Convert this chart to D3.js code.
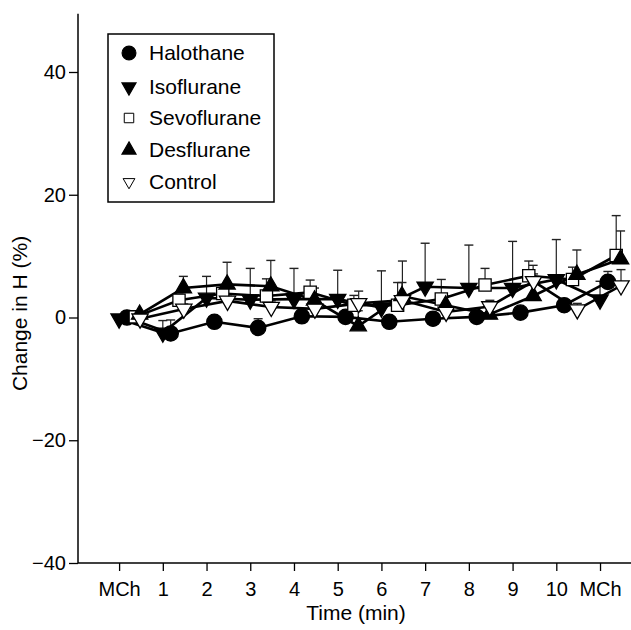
<!DOCTYPE html>
<html>
<head>
<meta charset="utf-8">
<script src="https://cdn.jsdelivr.net/npm/d3@7"></script>
<style>
  body { margin: 0; background: #fff; }
  text { font-family: "Liberation Sans", Arial, sans-serif; fill: #000; }
</style>
</head>
<body>
<script>
// time points (index on x axis)
var timeLabels = ["MCh", "1", "2", "3", "4", "5", "6", "7", "8", "9", "10", "MCh"];

var halothane     = [0, -2.6, -0.7, -1.7, 0.2, 0.1, -0.7, -0.2, 0.1, 0.8, 2.0, 5.8];
var halothaneSD   = [0, 2.2, 0.9, 1.5, 1.0, 0.8, 0.5, 0.6, 0.5, 0.6, 0.8, 1.7];
var isoflurane    = [-0.2, -2.5, 3.2, 2.9, 3.0, 3.0, 1.6, 5.0, 4.8, 4.8, 6.2, 2.9];
var isofluraneSD  = [0, 2.0, 3.5, 5.1, 5.0, 4.7, 6.0, 7.1, 7.0, 7.6, 6.5, 3.0];
var sevoflurane   = [0.1, 2.8, 3.9, 3.5, 4.1, 2.0, 2.0, 3.0, 5.3, 6.8, 6.2, 10.1];
var sevofluraneSD = [0, 1.0, 1.0, 2.8, 2.0, 1.6, 3.7, 3.2, 2.7, 2.4, 2.0, 6.5];
var desflurane    = [0.5, 4.8, 5.4, 5.1, 2.8, -1.4, 3.5, 2.0, 0.5, 3.5, 7.0, 9.5];
var desfluraneSD  = [0, 1.9, 3.6, 4.2, 2.0, 2.5, 2.2, 1.5, 1.2, 5.0, 4.0, 4.6];
var control       = [-0.2, 1.4, 2.7, 1.7, 1.4, 2.3, 2.8, 0.9, 1.8, 5.9, 1.3, 5.2];
var controlSD     = [0, 0.8, 1.0, 1.0, 1.0, 2.0, 6.4, 1.0, 1.0, 1.2, 1.0, 2.6];

var yTicks = [-40, -20, 0, 20, 40];

var series = [
    {name: "Halothane",   values: halothane,   sd: halothaneSD,   shape: "circle", fill: "#000", shift: 0.18},
    {name: "Isoflurane",  values: isoflurane,  sd: isofluraneSD,  shape: "down",   fill: "#000", shift: 0.0},
    {name: "Sevoflurane", values: sevoflurane, sd: sevofluraneSD, shape: "square", fill: "#fff", shift: 0.37},
    {name: "Desflurane",  values: desflurane,  sd: desfluraneSD,  shape: "up",     fill: "#000", shift: 0.47},
    {name: "Control",     values: control,     sd: controlSD,     shape: "down",   fill: "#fff", shift: 0.48}
];

var width = 631, height = 630;

var x = d3.scaleLinear().domain([-0.94, 11.8]).range([78, 635]);
var y = d3.scaleLinear().domain([-40, 40]).range([563, 72]);

var svg = d3.select("body").append("svg")
    .attr("width", width)
    .attr("height", height);

function symbolPath(shape, size) {
    var type = shape == "circle" ? d3.symbolCircle
             : shape == "square" ? d3.symbolSquare
             : d3.symbolTriangle;
    return d3.symbol().type(type).size(size)();
}
function symbolSize(shape) {
    if (shape == "circle") return 185;
    if (shape == "square") return 150;
    return 115;
}
function symbolTransform(shape, px, py) {
    if (shape == "down") return "translate(" + px + "," + py + ") rotate(180)";
    return "translate(" + px + "," + py + ")";
}

// y axis
svg.append("g")
    .attr("transform", "translate(78,0)")
    .call(d3.axisLeft(y).tickValues(yTicks).tickSize(9).tickPadding(3))
    .call(function(g) {
        g.select(".domain").remove();
        g.selectAll("line").attr("stroke-width", 1.3);
        g.selectAll("text").style("font-size", "20px");
    });
svg.append("line")
    .attr("x1", 78).attr("x2", 78)
    .attr("y1", y(49.5)).attr("y2", y(-40))
    .attr("stroke", "#000").attr("stroke-width", 1.5);

// x axis
svg.append("g")
    .attr("transform", "translate(0," + y(-40) + ")")
    .call(d3.axisBottom(x)
        .tickValues(d3.range(timeLabels.length))
        .tickFormat(function(d) { return timeLabels[d]; })
        .tickSize(8).tickPadding(11))
    .call(function(g) {
        g.select(".domain").remove();
        g.selectAll("line").attr("stroke-width", 1.3);
        g.selectAll("text").style("font-size", "20px");
    });
svg.append("line")
    .attr("x1", 78).attr("x2", width)
    .attr("y1", y(-40)).attr("y2", y(-40))
    .attr("stroke", "#000").attr("stroke-width", 1.5);

// axis titles
svg.append("text")
    .attr("transform", "translate(27," + (y(0) - 4) + ") rotate(-90)")
    .attr("text-anchor", "middle")
    .style("font-size", "21px")
    .text("Change in H (%)");

svg.append("text")
    .attr("x", 356).attr("y", 620)
    .attr("text-anchor", "middle")
    .style("font-size", "21px")
    .text("Time (min)");

// error bars (upward only)
series.forEach(function(s) {
    var g = svg.append("g");
    s.values.forEach(function(v, i) {
        if (!s.sd[i]) return;
        var px = x(i + s.shift);
        g.append("line")
            .attr("x1", px).attr("x2", px)
            .attr("y1", y(v)).attr("y2", y(v + s.sd[i]))
            .attr("stroke", "#222").attr("stroke-width", 1.2);
        g.append("line")
            .attr("x1", px - 4.5).attr("x2", px + 4.5)
            .attr("y1", y(v + s.sd[i])).attr("y2", y(v + s.sd[i]))
            .attr("stroke", "#222").attr("stroke-width", 1.4);
    });
});

// lines
var line = d3.line()
    .x(function(d) { return x(d.i + d.shift); })
    .y(function(d) { return y(d.v); });

series.forEach(function(s) {
    var pts = s.values.map(function(v, i) { return {i: i, v: v, shift: s.shift}; });
    svg.append("path")
        .datum(pts)
        .attr("fill", "none")
        .attr("stroke", "#000")
        .attr("stroke-width", 2.6)
        .attr("d", line);
});

// markers
series.forEach(function(s) {
    svg.append("g").selectAll("path")
        .data(s.values)
        .enter().append("path")
        .attr("d", symbolPath(s.shape, symbolSize(s.shape)))
        .attr("transform", function(v, i) { return symbolTransform(s.shape, x(i + s.shift), y(v)); })
        .attr("fill", s.fill)
        .attr("stroke", "#000")
        .attr("stroke-width", 1.3);
});

// legend
var legend = svg.append("g");
legend.append("rect")
    .attr("x", 108).attr("y", 34)
    .attr("width", 166).attr("height", 168)
    .attr("fill", "#fff")
    .attr("stroke", "#000")
    .attr("stroke-width", 1.5);

var legendY = [53, 87, 118, 150, 182];
var legendSize = {circle: 150, square: 90, up: 85, down: 85};
series.forEach(function(s, k) {
    var sz = legendSize[s.shape];
    if (s.name == "Control") sz = 60;
    legend.append("path")
        .attr("d", symbolPath(s.shape, sz))
        .attr("transform", symbolTransform(s.shape, 129, legendY[k]))
        .attr("fill", s.fill)
        .attr("stroke", "#000")
        .attr("stroke-width", s.fill == "#fff" ? 1 : 1.2);
    legend.append("text")
        .attr("x", 149).attr("y", legendY[k])
        .attr("dy", "0.35em")
        .style("font-size", "21px")
        .text(s.name);
});
</script>
</body>
</html>
